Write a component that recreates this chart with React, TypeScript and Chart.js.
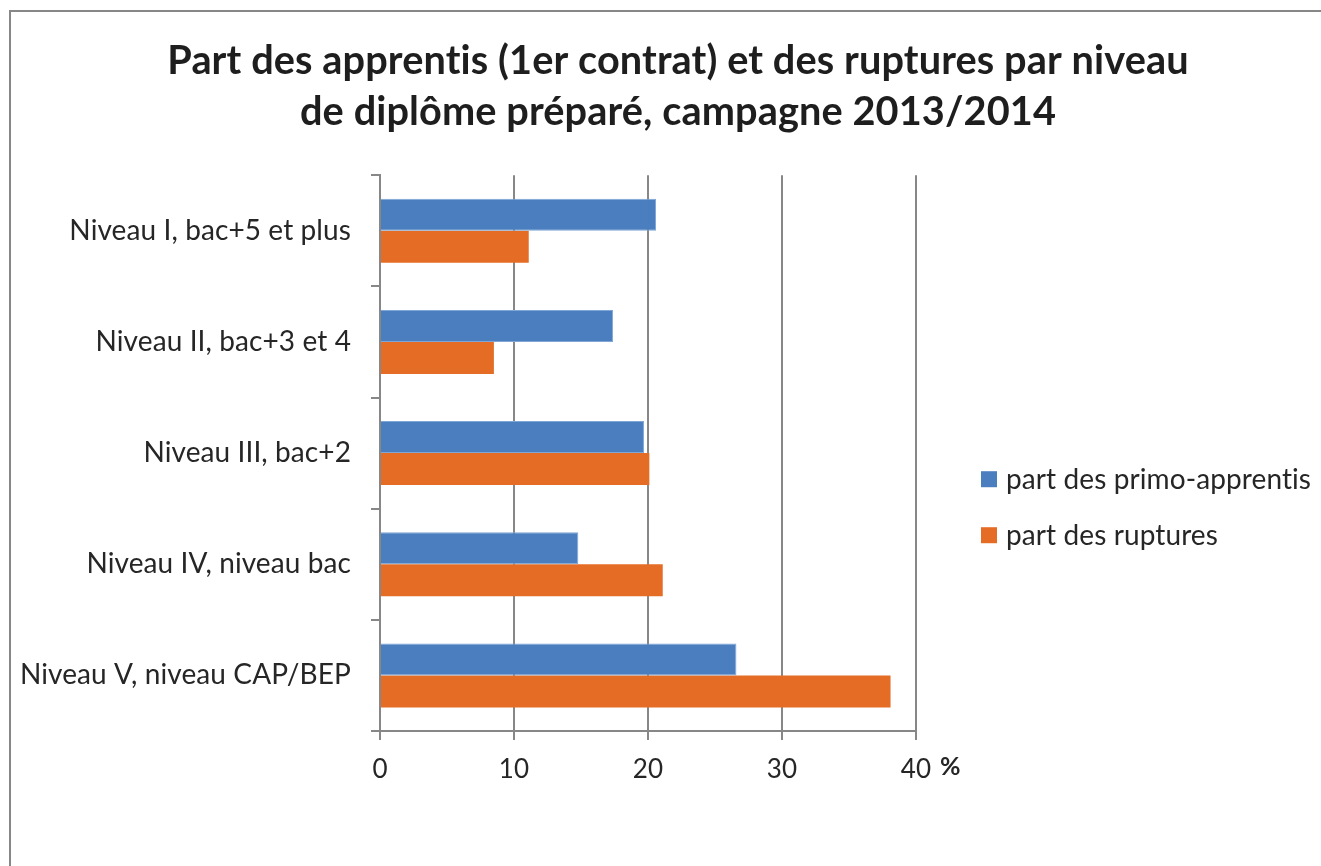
import { useEffect, useRef } from 'react';
import { Chart, registerables, layouts } from 'chart.js';

Chart.register(...registerables);

const categories = [
  'Niveau I, bac+5 et plus',
  'Niveau II, bac+3 et 4',
  'Niveau III, bac+2',
  'Niveau IV, niveau bac',
  'Niveau V, niveau CAP/BEP',
];
const seriesLabels = ['part des primo-apprentis', 'part des ruptures'];
const primoApprentis = [20.6, 17.4, 19.7, 14.8, 26.6];
const ruptures = [11.1, 8.5, 20.1, 21.1, 38.1];
const xTicks = [0, 10, 20, 30, 40];
const titleLines = [
  'Part des apprentis (1er contrat) et des ruptures par niveau',
  'de diplôme préparé, campagne 2013/2014',
];
const unitLabel = '%';

const FONT = 'Lato';
const TEXT = '#262626';
const LINE = '#878787';
const BLUE = '#4A7EBF';
const ORANGE = '#E46C25';

// the chart frame is wider than the window (its right edge is cut off)
const CANVAS_W = 1356;
const CANVAS_H = 866;

export default function App() {
  const ref = useRef<HTMLCanvasElement>(null);

  useEffect(() => {
    const canvas = ref.current;
    if (!canvas) return;

    const framePlugin = {
      id: 'frame',
      beforeDraw(chart: any) {
        const ctx = chart.ctx;
        // a tiny letter spacing keeps Lato from forming "ti" ligatures
        (ctx as any).letterSpacing = '0.1px';
        ctx.save();
        ctx.fillStyle = '#ffffff';
        ctx.fillRect(0, 0, chart.width, chart.height);
        ctx.strokeStyle = LINE;
        ctx.lineWidth = 2;
        ctx.strokeRect(10, 11, 2000, 2000);
        ctx.restore();
      },
      afterDraw(chart: any) {
        const ctx = chart.ctx;
        const xs = chart.scales.x;
        const px = xs.getPixelForValue(xTicks[xTicks.length - 1]);
        ctx.save();
        ctx.fillStyle = TEXT;
        ctx.font = `bold 25px ${FONT}`;
        ctx.textAlign = 'left';
        ctx.textBaseline = 'middle';
        ctx.fillText(unitLabel, px + 24, xs.top + 36);
        ctx.restore();
      },
    };

    const sideLegendPlugin = {
      id: 'sideLegend',
      beforeInit(chart: any) {
        const box: any = {
          id: 'sideLegendBox',
          position: 'right',
          weight: 1000,
          fullSize: false,
          options: {},
          left: 0,
          top: 0,
          right: 0,
          bottom: 0,
          width: 0,
          height: 0,
          isHorizontal() {
            return false;
          },
          update(_maxWidth: number, maxHeight: number) {
            this.width = 440;
            this.height = maxHeight;
          },
          draw() {
            const ctx = chart.ctx;
            const area = chart.chartArea;
            ctx.save();
            chart.data.datasets.forEach((ds: any, i: number) => {
              const cy = area.top + 304 + i * 56;
              ctx.fillStyle = ds.backgroundColor;
              ctx.fillRect(this.left + 65, cy - 8, 16, 16);
              ctx.fillStyle = TEXT;
              ctx.font = `28px ${FONT}`;
              ctx.textAlign = 'left';
              ctx.textBaseline = 'middle';
              ctx.fillText(ds.label, this.left + 90, cy + 1);
            });
            ctx.restore();
          },
        };
        layouts.addBox(chart, box);
      },
    };

    const chart = new Chart(canvas, {
      type: 'bar',
      data: {
        labels: categories,
        datasets: [
          {
            label: seriesLabels[0],
            data: primoApprentis,
            backgroundColor: BLUE,
            borderColor: '#7FA6D6',
            borderWidth: 1,
            categoryPercentage: 0.576,
            barPercentage: 1,
          },
          {
            label: seriesLabels[1],
            data: ruptures,
            backgroundColor: ORANGE,
            borderWidth: 0,
            categoryPercentage: 0.576,
            barPercentage: 1,
          },
        ],
      },
      options: {
        indexAxis: 'y',
        responsive: false,
        animation: false,
        layout: { padding: { left: 0, right: 0, top: 0, bottom: 0 } },
        plugins: {
          legend: { display: false },
          tooltip: { enabled: false },
          title: {
            display: true,
            text: titleLines,
            color: '#1e1e1e',
            font: { family: FONT, size: 39.7, weight: 'bold', lineHeight: 1.3 },
            padding: { top: 35, bottom: 37 },
          },
        },
        scales: {
          x: {
            type: 'linear',
            min: 0,
            max: 40,
            afterBuildTicks: (s: any) => {
              s.ticks = xTicks.map((v) => ({ value: v }));
            },
            afterFit: (s: any) => {
              s.height = 135;
            },
            grid: {
              display: true,
              drawOnChartArea: true,
              drawTicks: true,
              tickLength: 9,
              color: LINE,
              lineWidth: 2,
            },
            border: { display: true, color: LINE, width: 2 },
            ticks: {
              color: TEXT,
              font: { family: FONT, size: 26 },
              padding: 14,
              maxRotation: 0,
            },
          },
          y: {
            type: 'category',
            afterFit: (s: any) => {
              s.width = 380;
            },
            grid: {
              display: true,
              offset: true,
              drawOnChartArea: false,
              drawTicks: true,
              tickLength: 9,
              color: LINE,
              lineWidth: 2,
            },
            border: { display: true, color: LINE, width: 2 },
            ticks: {
              color: TEXT,
              font: { family: FONT, size: 28 },
              padding: 20,
            },
          },
        },
      },
      plugins: [framePlugin, sideLegendPlugin],
    } as any);

    return () => chart.destroy();
  }, []);

  return (
    <div
      style={{
        position: 'fixed',
        left: 0,
        top: 0,
        width: 1321,
        height: 866,
        overflow: 'hidden',
        background: '#fff',
      }}
    >
      <canvas ref={ref} width={CANVAS_W} height={CANVAS_H} style={{ display: 'block' }} />
    </div>
  );
}
